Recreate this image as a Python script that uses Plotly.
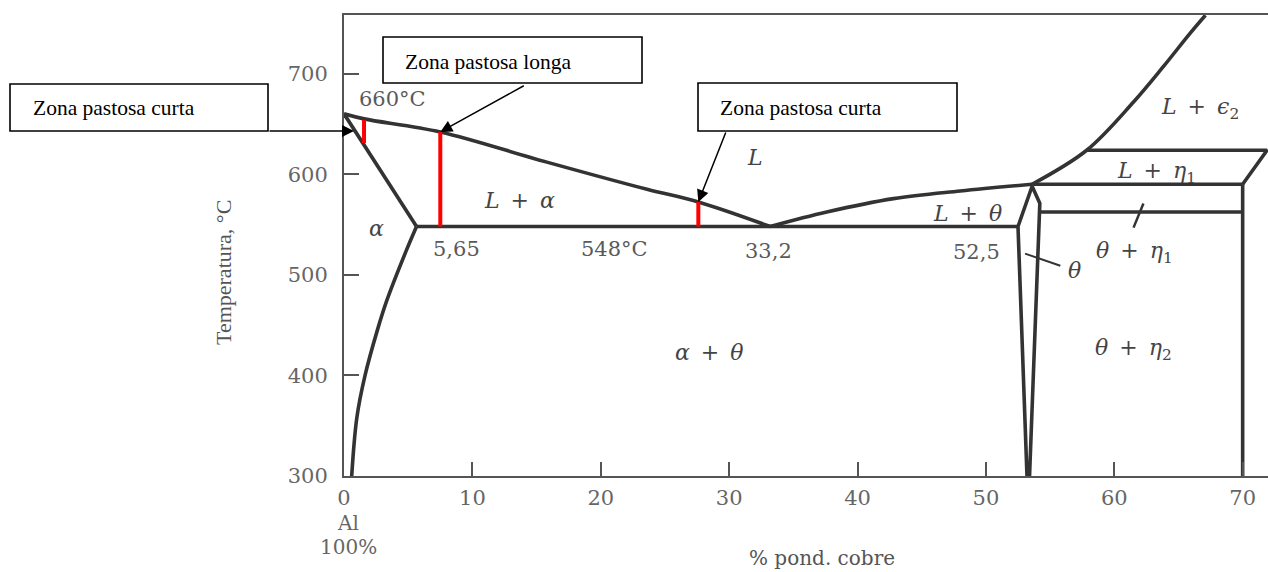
import plotly.graph_objects as go

# ---- Al-Cu phase diagram (Al-rich side) ----
# composition (% pond. cobre) and temperature (°C) of each phase boundary

liquidus_al_x = [0, 1.56, 7.5, 15.8, 23.6, 27.6, 33.2]
liquidus_al_t = [660, 655, 642, 612, 585, 572.4, 548]

solidus_x = [0, 5.65]
solidus_t = [660, 548]

solvus_x = [5.65, 4.85, 3.35, 2.6, 1.64, 1.0, 0.6]
solvus_t = [548, 524, 475, 445, 400, 358, 300]

eutectic_x = [5.65, 52.5]
eutectic_t = [548, 548]

liquidus_theta_x = [33.2, 37.6, 42.8, 48.0, 53.6]
liquidus_theta_t = [548, 562.4, 575.7, 583.3, 590]

theta_x = [52.5, 53.6, 54.2, 53.4, 53.2, 52.5]
theta_t = [548, 588, 571, 300, 300, 548]

peritectic_x = [53.6, 70.0]
peritectic_t = [590, 590]

theta_eta1_x = [54.2, 70.0]
theta_eta1_t = [562.5, 562.5]

eta_boundary_x = [70.0, 70.0]
eta_boundary_t = [300, 590]

l_eta1_x = [57.85, 71.9, 70.0]
l_eta1_t = [623.8, 623.8, 590]

liquidus_upper_x = [53.6, 57.85, 61.5, 63.8, 65.9, 67.1]
liquidus_upper_t = [590, 623.8, 671.8, 706.6, 740, 758]

transition_mark_x = [62.27, 61.5]
transition_mark_t = [570.8, 546.9]

theta_pointer_x = [55.8, 53.05]
theta_pointer_t = [509, 521]

# mushy-zone widths at three alloy compositions
zone_x = [1.56, 7.5, 27.6]
zone_top = [654, 642, 572.4]
zone_bottom = [631, 548, 548]

# axis ticks
x_ticks = [0, 10, 20, 30, 40, 50, 60, 70]
x_tick_text = ["0", "10", "20", "30", "40", "50", "60", "70"]
y_ticks = [300, 400, 500, 600, 700]
x_origin_lines = ["Al", "100%"]

SP = "\u2002"  # en space around the plus signs

# phase field and point labels: (text, x, T)
phase_labels = [
    ("<i>α</i>", 2.55, 546),
    (f"<i>L</i>{SP}+{SP}<i>α</i>", 13.7, 574),
    ("<i>L</i>", 32.0, 617),
    (f"<i>L</i>{SP}+{SP}<i>θ</i>", 48.6, 561),
    ("<i>θ</i>", 56.9, 504.5),
    (f"<i>θ</i>{SP}+{SP}<i>η</i><sub>1</sub>", 61.6, 522),
    (f"<i>L</i>{SP}+{SP}<i>η</i><sub>1</sub>", 63.3, 602),
    (f"<i>L</i>{SP}+{SP}<i>ϵ</i><sub>2</sub>", 66.7, 665),
    (f"<i>θ</i>{SP}+{SP}<i>η</i><sub>2</sub>", 61.5, 426),
    (f"<i>α</i>{SP}+{SP}<i>θ</i>", 28.5, 423),
]
point_labels = [
    ("660°C", 3.8, 675),
    ("5,65", 8.8, 526),
    ("548°C", 21.1, 526),
    ("33,2", 33.1, 524),
    ("52,5", 49.3, 522.7),
]

# callout boxes: text, box (px), text anchor (px), arrow target (data), tail offset (px)
callouts = [
    ("Zona pastosa curta", (10, 84, 268, 131), (31, 108), (0.78, 643), (-86, 0)),
    ("Zona pastosa longa", (383, 37, 642, 83), (403, 62), (7.5, 642), (85, -47)),
    ("Zona pastosa curta", (698, 83, 957, 131), (718, 108), (27.6, 572.4), (28, -71)),
]

# ---- figure geometry ----
W, H = 1268, 572
ML, MR, MT, MB = 344, 0, 15, 96
PW, PH = W - ML - MR, H - MT - MB


def px(x):
    return (x - ML) / PW


def py(y):
    return (H - MB - y) / PH


LINE = "#333333"
SERIF = "DejaVu Serif"

fig = go.Figure()


def boundary(xs, ts, smooth=False, width=3.6, color=LINE):
    fig.add_trace(go.Scatter(
        x=xs, y=ts, mode="lines",
        line=dict(color=color, width=width, shape="spline" if smooth else "linear"),
        showlegend=False, hoverinfo="skip", cliponaxis=True,
    ))


boundary(liquidus_al_x, liquidus_al_t, smooth=True)
boundary(solidus_x, solidus_t)
boundary(solvus_x, solvus_t, smooth=True)
boundary(eutectic_x, eutectic_t)
boundary(liquidus_theta_x, liquidus_theta_t, smooth=True)
boundary(theta_x, theta_t)
boundary(peritectic_x, peritectic_t)
boundary(theta_eta1_x, theta_eta1_t)
boundary(eta_boundary_x, eta_boundary_t)
boundary(l_eta1_x, l_eta1_t)
boundary(liquidus_upper_x, liquidus_upper_t, smooth=True)
boundary(transition_mark_x, transition_mark_t, width=2.5)
boundary(theta_pointer_x, theta_pointer_t, width=2)

# red bars marking the solidification interval
zx, zy = [], []
for x, t0, t1 in zip(zone_x, zone_bottom, zone_top):
    zx += [x, x, None]
    zy += [t0, t1, None]
fig.add_trace(go.Scatter(x=zx, y=zy, mode="lines",
                         line=dict(color="#ff0000", width=4),
                         showlegend=False, hoverinfo="skip"))

annotations = []
for text, x, t in phase_labels:
    annotations.append(dict(x=x, y=t, xref="x", yref="y", text=text, showarrow=False,
                            xanchor="center", yanchor="middle",
                            font=dict(family=SERIF, size=22, color="#444444")))
for text, x, t in point_labels:
    annotations.append(dict(x=x, y=t, xref="x", yref="y", text=text, showarrow=False,
                            xanchor="center", yanchor="middle",
                            font=dict(family=SERIF, size=21, color="#5a5a5a")))

# "Al / 100%" under the origin tick
for text, ypix in zip(x_origin_lines, (523, 547)):
    annotations.append(dict(x=px(348), y=py(ypix), xref="paper", yref="paper", text=text,
                            showarrow=False, xanchor="center", yanchor="middle",
                            font=dict(family=SERIF, size=20, color="#666666")))

shapes = []
for text, (x0, y0, x1, y1), (tx, ty), (hx, ht), (ax, ay) in callouts:
    shapes.append(dict(type="rect", xref="paper", yref="paper",
                       x0=px(x0), x1=px(x1), y0=py(y1), y1=py(y0),
                       line=dict(color="black", width=1.6), fillcolor="white", layer="above"))
    annotations.append(dict(x=px(tx), y=py(ty), xref="paper", yref="paper", text=text,
                            showarrow=False, xanchor="left", yanchor="middle",
                            font=dict(family="Liberation Serif", size=21.5, color="black")))
    annotations.append(dict(x=hx, y=ht, xref="x", yref="y", text="", showarrow=True,
                            ax=ax, ay=ay, arrowhead=2, arrowsize=1.6, arrowwidth=1.5,
                            arrowcolor="black", standoff=0))

# axis titles
annotations.append(dict(x=px(223), y=py(273), xref="paper", yref="paper",
                        text="Temperatura, °C", textangle=-90, showarrow=False,
                        xanchor="center", yanchor="middle",
                        font=dict(family="Liberation Serif", size=22, color="#555555")))
annotations.append(dict(x=px(822), y=py(558), xref="paper", yref="paper",
                        text="% pond. cobre", showarrow=False,
                        xanchor="center", yanchor="middle",
                        font=dict(family=SERIF, size=20, color="#555555")))

fig.update_layout(
    width=W, height=H,
    margin=dict(l=ML, r=MR, t=MT, b=MB, pad=0),
    paper_bgcolor="white", plot_bgcolor="white",
    showlegend=False,
    annotations=annotations,
    shapes=shapes,
    xaxis=dict(range=[0, PW / 12.838], tickvals=x_ticks, ticktext=x_tick_text,
               ticks="inside", ticklen=14, tickwidth=2, tickcolor="#555555",
               showline=True, linecolor="#555555", linewidth=2, mirror=True,
               showgrid=False, zeroline=False, ticklabelstandoff=2,
               tickfont=dict(family=SERIF, size=21, color="#666666")),
    yaxis=dict(range=[300 - (476 - (H - MB)) / 1.006, 300 + PH / 1.006],
               tickvals=y_ticks, ticks="inside", ticklen=15, tickwidth=2,
               tickcolor="#555555", showline=True, linecolor="#555555", linewidth=2,
               showgrid=False, zeroline=False, ticklabelstandoff=10,
               tickfont=dict(family=SERIF, size=21, color="#666666")),
)

fig.write_html("out.html")
